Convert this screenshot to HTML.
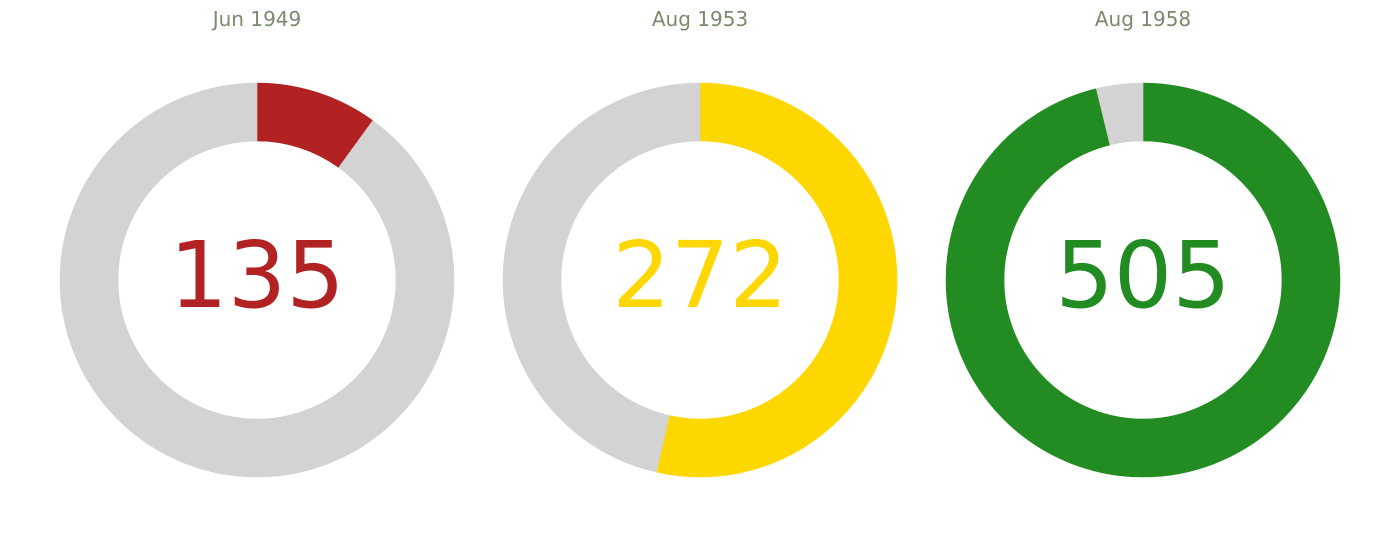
<!DOCTYPE html>
<html><head><meta charset="utf-8">
<style>
html,body{margin:0;padding:0;background:#fff;}
svg{display:block;font-family:"DejaVu Sans","Liberation Sans",sans-serif;}
</style></head>
<body>
<svg id="chart" width="1400" height="538" viewBox="0 0 1400 538"></svg>
<script>
const titles = ["Jun 1949", "Aug 1953", "Aug 1958"];
const values = [135, 272, 505];
const maxes = [1350, 508, 525];
const colors = ["#b22222", "#ffd700", "#228b22"];

const svg = document.getElementById('chart');
const NS = 'http://www.w3.org/2000/svg';
const cxs = [257, 700, 1143], cy = 280, R = 197, r = 139;

function pt(cx, rad, a){ return [cx + rad*Math.sin(a), cy - rad*Math.cos(a)]; }
function arc(cx, a0, a1){
  const large = (a1 - a0) > Math.PI ? 1 : 0;
  const p0 = pt(cx,R,a0), p1 = pt(cx,R,a1), p2 = pt(cx,r,a1), p3 = pt(cx,r,a0);
  return `M${p0[0]},${p0[1]} A${R},${R} 0 ${large} 1 ${p1[0]},${p1[1]} L${p2[0]},${p2[1]} A${r},${r} 0 ${large} 0 ${p3[0]},${p3[1]} Z`;
}
function segs(g, cx, a0, a1, color, name){
  let s = a0;
  while (s < a1 - 1e-6){
    let e = Math.min(a1, (Math.floor(s/(Math.PI/2)+1e-6)+1)*Math.PI/2);
    const p = document.createElementNS(NS,'path');
    p.setAttribute('d', arc(cx, s, e));
    p.setAttribute('fill', color);
    p.setAttribute('stroke', color);
    p.setAttribute('stroke-width', '0.6');
    
    
    g.appendChild(p);
    s = e;
  }
}
titles.forEach((t, i) => {
  const cx = cxs[i];
  const g = document.createElementNS(NS,'g');
  
  
  svg.appendChild(g);
  const frac = Math.min(1, values[i] / maxes[i]);
  const end = frac * 2 * Math.PI;
  segs(g, cx, 0, end, colors[i], 'gauge-value-arc');
  segs(g, cx, end, 2*Math.PI, '#d3d3d3', 'gauge-track-arc');
  const tt = document.createElementNS(NS,'text');
  tt.setAttribute('x', cx); tt.setAttribute('y', 26);
  tt.setAttribute('text-anchor','middle'); tt.setAttribute('font-size','20');
  tt.setAttribute('fill','#7a8a6c');
  tt.textContent = t;
  
  
  g.appendChild(tt);
  const vt = document.createElementNS(NS,'text');
  vt.setAttribute('x', cx); vt.setAttribute('y', 307);
  vt.setAttribute('text-anchor','middle'); vt.setAttribute('font-size','92');
  vt.setAttribute('fill', colors[i]);
  vt.textContent = values[i];
  
  
  g.appendChild(vt);
});
</script>
</body></html>
